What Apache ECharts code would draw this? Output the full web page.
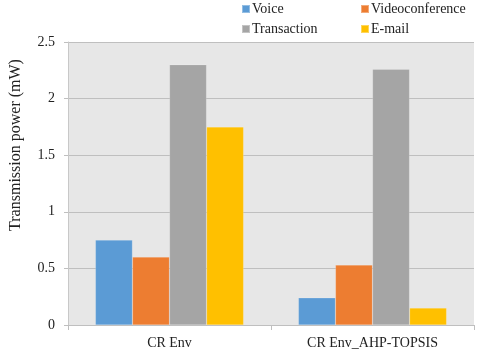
<!DOCTYPE html>
<html style="height: 100%; margin: 0;">
<head>
<meta charset="utf-8" />
<title></title>
<script src="https://cdn.jsdelivr.net/npm/echarts@6/dist/echarts.min.js"></script>
</head>
<body style="height: 100%; margin: 0; background: #fff;">
<div id="main" style="width: 480px; height: 353px;"></div>
<script type="text/javascript">
var categories = ['CR Env', 'CR Env_AHP-TOPSIS'];
var seriesNames = ['Voice', 'Videoconference', 'Transaction', 'E-mail'];
var voice = [0.75, 0.24];
var video = [0.60, 0.53];
var transaction = [2.30, 2.26];
var email = [1.75, 0.15];
var yTicks = [0, 0.5, 1, 1.5, 2, 2.5];

var colors = ['#5B9BD5', '#ED7D31', '#A5A5A5', '#FFC000'];
var values = [voice, video, transaction, email];
var font = 'Liberation Serif, Times New Roman, serif';

// one legend per entry so the 2x2 layout lines up
var legendPos = [[241, 2], [360, 2], [241, 22], [360, 22]];
var legends = [];
for (var i = 0; i < seriesNames.length; i++) {
    legends.push({
        data: [seriesNames[i]],
        left: legendPos[i][0],
        top: legendPos[i][1],
        itemWidth: 8,
        itemHeight: 8,
        itemGap: 0,
        icon: 'rect',
        padding: 0,
        textStyle: { fontFamily: font, fontSize: 14, color: '#222', padding: [0, 0, 0, -3] }
    });
}

var series = [];
for (var i = 0; i < seriesNames.length; i++) {
    series.push({
        name: seriesNames[i],
        type: 'bar',
        data: values[i],
        barGap: '0%',
        barCategoryGap: '27%',
        itemStyle: { color: colors[i], borderColor: 'rgba(255,255,255,0.35)', borderWidth: 0.5 }
    });
}

var myChart = echarts.init(document.getElementById('main'));
myChart.setOption({
    animation: false,
    color: colors,
    legend: legends,
    graphic: [{
        type: 'text',
        x: 8,
        y: 145,
        rotation: Math.PI / 2,
        style: {
            text: 'Transmission power (mW)',
            fontFamily: font,
            fontSize: 16,
            fill: '#222',
            align: 'center',
            verticalAlign: 'top'
        }
    }],
    grid: {
        left: 68, right: 6, top: 42, bottom: 28,
        show: true, backgroundColor: '#E7E7E7', borderWidth: 0
    },
    xAxis: {
        type: 'category',
        data: categories,
        axisLine: { lineStyle: { color: '#BFBFBF' } },
        axisTick: { show: true, length: 5, lineStyle: { color: '#BFBFBF' } },
        axisLabel: { fontFamily: font, fontSize: 14, color: '#222', margin: 11 }
    },
    yAxis: {
        type: 'value',
        min: yTicks[0],
        max: yTicks[yTicks.length - 1],
        interval: 0.5,
        axisLine: { show: true, lineStyle: { color: '#C8C8C8' } },
        axisTick: { show: true, length: 4, lineStyle: { color: '#BFBFBF' } },
        axisLabel: { fontFamily: font, fontSize: 14, color: '#222', margin: 13 },
        splitLine: { lineStyle: { color: '#BFBFBF', width: 1 } }
    },
    series: series
});
</script>
</body>
</html>
